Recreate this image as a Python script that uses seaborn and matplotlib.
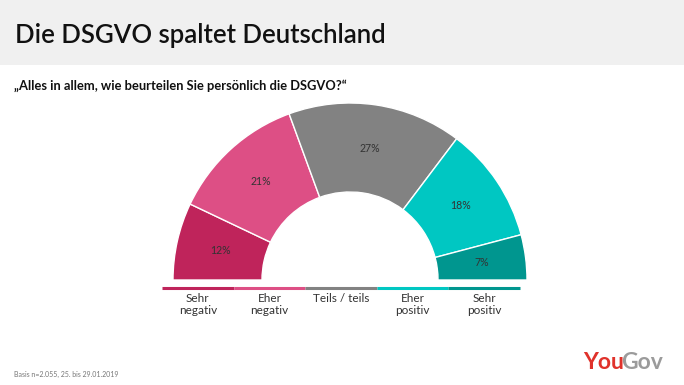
import matplotlib
matplotlib.use("Agg")
import matplotlib.pyplot as plt
import seaborn as sns
from matplotlib.patches import Rectangle

# ---- data ----
categories = ["Sehr\nnegativ", "Eher\nnegativ", "Teils / teils", "Eher\npositiv", "Sehr\npositiv"]
values = [12, 21, 27, 18, 7]
value_labels = ["12%", "21%", "27%", "18%", "7%"]
colors = ["#BF245B", "#DD4F85", "#828282", "#00C7C2", "#00968F"]

title = "Die DSGVO spaltet Deutschland"
subtitle = "\u201eAlles in allem, wie beurteilen Sie pers\u00f6nlich die DSGVO?\u201c"
footer = "Basis n=2.055, 25. bis 29.01.2019"

sns.set_theme(style="white")
palette = sns.color_palette(colors)
plt.rcParams['font.family'] = ['Lato', 'DejaVu Sans']

W, H = 684, 385
fig = plt.figure(figsize=(W / 100, H / 100), dpi=100)
fig.patch.set_facecolor("white")

# background / text layer in pixel coordinates
bg = fig.add_axes([0, 0, 1, 1])
bg.set_xlim(0, W)
bg.set_ylim(H, 0)
bg.axis("off")
bg.add_patch(Rectangle((0, 0), W, 65, color="#F0F0F0", lw=0))
bg.text(15, 42.5, title, fontsize=18.5, fontweight="semibold", color="#111111", va="baseline", ha="left")
bg.text(14, 90, subtitle, fontsize=9.3, fontweight="bold", color="#111111", va="baseline", ha="left")
bg.text(14, 377, footer, fontsize=5, color="#777777", va="baseline", ha="left")
bg.text(583, 369, "You", fontsize=16.5, fontweight="bold", color="#E0322B", va="baseline", ha="left")
bg.text(621, 369, "Gov", fontsize=16.5, fontweight="bold", color="#9B9B9B", va="baseline", ha="left")

# legend bar below the half-donut
x0, x1 = 162, 520
seg = (x1 - x0) / len(categories)
for i, (cat, col) in enumerate(zip(categories, palette)):
    bg.hlines(287.5, x0 + i * seg, x0 + (i + 1) * seg, color=col, lw=2.2)
    bg.text(x0 + (i + 0.5) * seg, 293, cat, fontsize=8.5, color="#333333",
            ha="center", va="top", linespacing=1.15)

# half-donut
cx, cy, r = 350, 280, 177
ax = fig.add_axes([(cx - r) / W, (H - cy - r) / H, 2 * r / W, 2 * r / H])
ax.axis("off")
total = sum(values)
wedges, texts = ax.pie(
    values + [total],
    colors=list(palette) + ["white"],
    labels=value_labels + [""],
    labeldistance=0.75,
    startangle=180,
    counterclock=False,
    radius=1,
    wedgeprops=dict(width=89 / 177, edgecolor="white", linewidth=1.0),
    textprops=dict(fontsize=7.6, color="#333333"),
)
wedges[-1].set_visible(False)
for t in texts:
    t.set_ha("center")
    t.set_va("center")
ax.set_xlim(-1, 1)
ax.set_ylim(-1, 1)

fig.savefig("out.png", dpi=100)
